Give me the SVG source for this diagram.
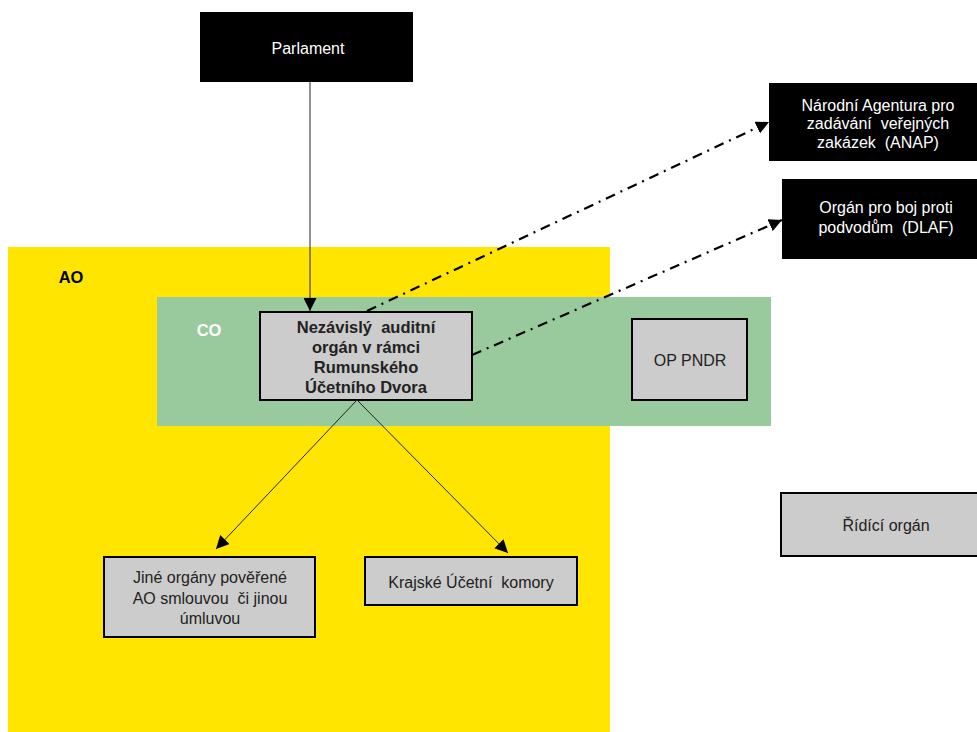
<svg xmlns="http://www.w3.org/2000/svg" width="977" height="732" viewBox="0 0 977 732">
<defs>
<style>
text{font-family:"Liberation Sans",Arial,sans-serif;font-size:16px;text-anchor:middle;white-space:pre}
.dark{fill:#000}
.gray{fill:#cccccc;stroke:#000;stroke-width:2}
.wt{fill:#fff}
.bt{fill:#222}
.bold{font-weight:bold;font-size:16.5px}
.solid{stroke:#222;stroke-width:1;fill:none}
.dd{stroke:#000;stroke-width:2.2;fill:none;stroke-dasharray:10 6 2 6}
</style>
<marker id="ah" viewBox="0 0 10 10" refX="10" refY="5" markerWidth="13" markerHeight="13" markerUnits="userSpaceOnUse" orient="auto"><path d="M0,0 L10,5 L0,10 z" fill="#000"/></marker>
</defs>
<rect width="977" height="732" fill="#fff"/>
<g id="AO">
<rect x="8" y="247" width="602" height="485" fill="#ffe500"/>
<text x="71" y="283" class="bold" style="fill:#000">AO</text>
</g>
<g id="CO">
<rect x="157" y="297" width="614" height="129" fill="#98ca9e"/>
<text x="209" y="336" class="bold" style="fill:#fff">CO</text>
</g>
<g id="parlament">
<rect x="200" y="12" width="213" height="70" class="dark"/>
<text x="308" y="54" class="wt">Parlament</text>
</g>
<g id="anap">
<rect x="769" y="83" width="210" height="78" class="dark"/>
<text x="878" y="111" class="wt" xml:space="preserve">Národní Agentura pro</text>
<text x="878" y="129" class="wt" xml:space="preserve">zadávání  veřejných</text>
<text x="878" y="148" class="wt" xml:space="preserve">zakázek  (ANAP)</text>
</g>
<g id="dlaf">
<rect x="782" y="179" width="210" height="80" class="dark"/>
<text x="886" y="213" class="wt" xml:space="preserve">Orgán pro boj proti</text>
<text x="886" y="233" class="wt" xml:space="preserve">podvodům  (DLAF)</text>
</g>
<g id="nezavisly">
<rect x="260" y="312" width="212" height="88" class="gray"/>
<text x="366" y="333" class="bold bt" xml:space="preserve">Nezávislý  auditní</text>
<text x="366" y="353" class="bold bt">orgán v rámci</text>
<text x="366" y="373" class="bold bt">Rumunského</text>
<text x="366" y="393" class="bold bt">Účetního Dvora</text>
</g>
<g id="oppndr">
<rect x="632" y="319" width="115" height="81" class="gray"/>
<text x="690" y="366" class="bt">OP PNDR</text>
</g>
<g id="jine">
<rect x="104" y="557" width="211" height="80" class="gray"/>
<text x="210" y="583" class="bt">Jiné orgány pověřené</text>
<text x="210" y="604" class="bt" xml:space="preserve">AO smlouvou  či jinou</text>
<text x="210" y="624" class="bt">úmluvou</text>
</g>
<g id="krajske">
<rect x="365" y="557" width="212" height="48" class="gray"/>
<text x="471" y="588" class="bt" xml:space="preserve">Krajské Účetní  komory</text>
</g>
<g id="ridici">
<rect x="781" y="493" width="210" height="63" class="gray"/>
<text x="886" y="531" class="bt">Řídící orgán</text>
</g>
<g id="connectors">
<line x1="310" y1="82" x2="310" y2="311" class="solid" marker-end="url(#ah)"/>
<line x1="357" y1="400" x2="216" y2="549" class="solid" marker-end="url(#ah)"/>
<line x1="357" y1="400" x2="508" y2="553" class="solid" marker-end="url(#ah)"/>
<line x1="367" y1="311" x2="769" y2="122" class="dd" marker-end="url(#ah)"/>
<line x1="472" y1="355" x2="782" y2="220" class="dd" marker-end="url(#ah)"/>
</g>
</svg>
